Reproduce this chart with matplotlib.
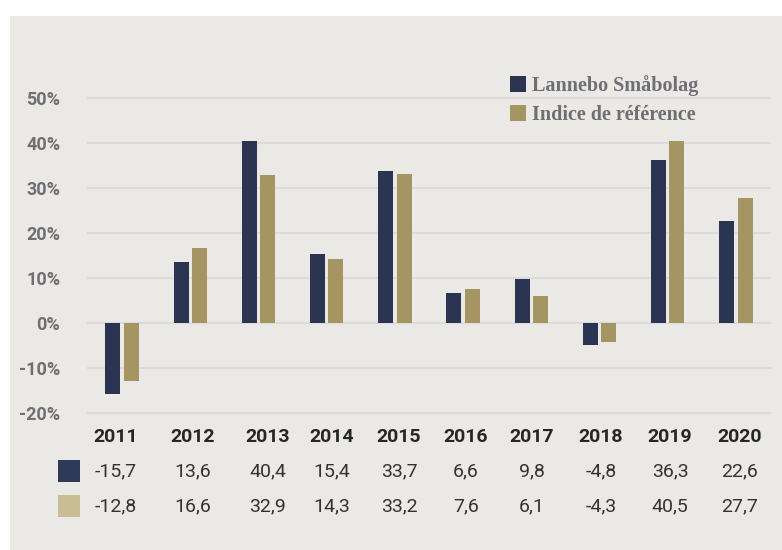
import numpy as np
import matplotlib.pyplot as plt
from matplotlib.patches import Patch, Rectangle

years = ['2011', '2012', '2013', '2014', '2015', '2016', '2017', '2018', '2019', '2020']
fund = [-15.7, 13.6, 40.4, 15.4, 33.7, 6.6, 9.8, -4.8, 36.3, 22.6]
index = [-12.8, 16.6, 32.9, 14.3, 33.2, 7.6, 6.1, -4.3, 40.5, 27.7]
labels = ['Lannebo Småbolag', 'Indice de référence']
yticks = [-20, -10, 0, 10, 20, 30, 40, 50]

W, H = 782, 550
bg = '#ebe9e5'
navy = '#2b3450'
gold = '#a59562'
navy_sw = '#2f3a58'
gold_sw = '#c9bd95'
grey = '#6f6e73'

fig = plt.figure(figsize=(W / 100, H / 100), dpi=100)
fig.patch.set_facecolor('white')
fig.patches.append(Rectangle((10 / W, 0), 1, 1 - 16 / H, transform=fig.transFigure,
                             facecolor=bg, edgecolor='none', zorder=-10))

ax = fig.add_axes([88 / W, (H - 413) / H, (770 - 88) / W, (413 - 98) / H])
ax.patch.set_alpha(0)

x = np.arange(len(years))
bw = 0.22
ax.bar(x - 0.135, fund, bw, color=navy, zorder=3)
ax.bar(x + 0.135, index, bw, color=gold, zorder=3)

ax.set_xlim(-0.5, len(years) - 0.5)
ax.set_ylim(-20, 50)
ax.set_yticks(yticks)
ax.set_yticklabels([f'{v}%' for v in yticks], fontfamily='Roboto', fontweight='bold',
                   fontsize=13, color=grey)
ax.tick_params(axis='y', length=0, pad=20)
ax.set_xticks([])
for v in yticks:
    ax.axhline(v, color='#dcdadb', lw=1.5, zorder=1, clip_on=False)
for s in ax.spines.values():
    s.set_visible(False)

handles = [Patch(facecolor=navy, edgecolor='none'), Patch(facecolor=gold, edgecolor='none')]
fig.legend(handles, labels, loc='upper left', bbox_to_anchor=(500 / W, 1 - 65 / H),
           frameon=False, handlelength=0.8, handleheight=0.8, handletextpad=0.3,
           labelspacing=0.45, borderpad=0,
           prop={'family': 'Liberation Serif', 'weight': 'bold', 'size': 14.5},
           labelcolor=grey)

# table below the chart
col_x = [116, 193, 268, 332, 399, 466, 532, 601, 670, 740]
for cx, yr, a, b in zip(col_x, years, fund, index):
    fig.text(cx / W, 1 - 437 / H, yr, ha='center', va='center', fontfamily='Roboto',
             fontweight='bold', fontsize=14, color='#262626')
    fig.text(cx / W, 1 - 471 / H, f'{a:.1f}'.replace('.', ','), ha='center', va='center',
             fontfamily='Roboto', fontsize=14, color='#333333')
    fig.text(cx / W, 1 - 506 / H, f'{b:.1f}'.replace('.', ','), ha='center', va='center',
             fontfamily='Roboto', fontsize=14, color='#333333')

for yy, c in [(460, navy_sw), (495, gold_sw)]:
    fig.patches.append(Rectangle((58 / W, 1 - (yy + 22) / H), 22 / W, 22 / H,
                                 transform=fig.transFigure, facecolor=c, edgecolor='none'))

fig.savefig('out.png', dpi=100, facecolor=fig.get_facecolor())
